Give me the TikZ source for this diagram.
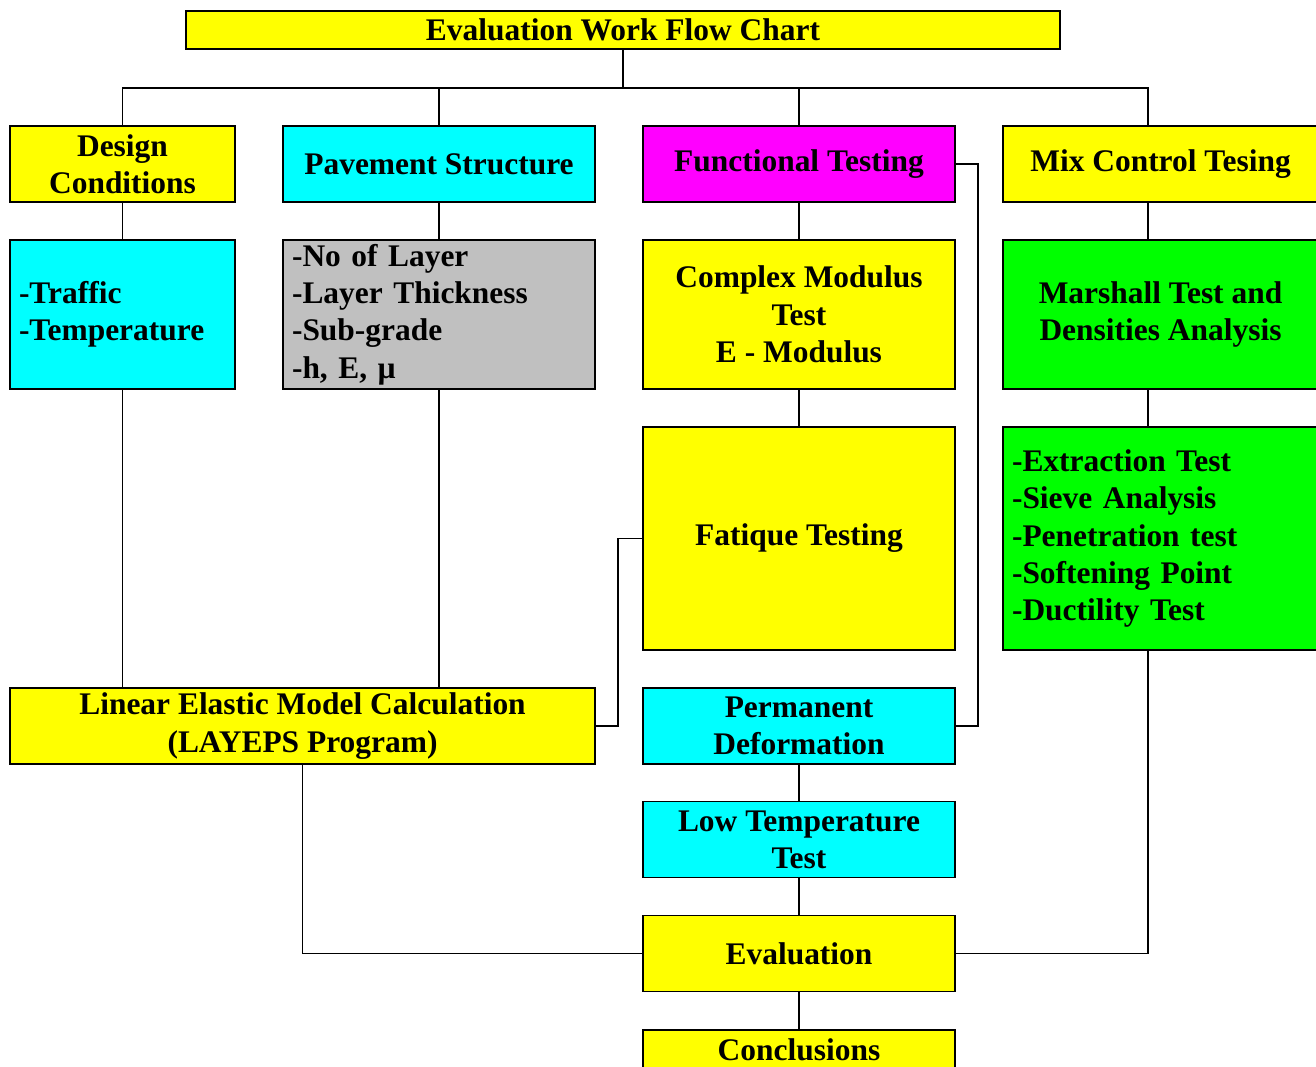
\documentclass[tikz,border=0pt]{standalone}
\usepackage{fontspec}
\setmainfont{Liberation Serif}
\usepackage{xcolor}
\usepackage{tikz}

\definecolor{wfyellow}{RGB}{255,255,0}
\definecolor{wfcyan}{RGB}{0,255,255}
\definecolor{wfmagenta}{RGB}{255,0,255}
\definecolor{wfgreen}{RGB}{0,255,0}
\definecolor{wfgray}{RGB}{192,192,192}
\newcommand{\wffont}{\fontsize{17.9}{21.2}\selectfont\bfseries}

\begin{document}
\begin{tikzpicture}[x=0.02cm,y=-0.02cm,line width=1.1pt]

        \tikzstyle{wfbox}=[draw,inner sep=0pt,align=center,font=\wffont,minimum height=1.52cm]
        \tikzstyle{wflist}=[wfbox,align=left,inner xsep=0.18cm]

        \clip (0,0) rectangle (1316,1066);

        %% Title and first row
        \node [wfbox,fill=wfyellow,minimum width=17.48cm,minimum height=0.76cm] (title) at (623,30) {Evaluation Work Flow Chart};

        \node [wfbox,fill=wfyellow,minimum width=4.5cm] (design) at (122.5,164) {Design\\Conditions};
        \node [wfbox,fill=wfcyan,minimum width=6.24cm] (pave) at (439,164) {Pavement Structure};
        \node [wfbox,fill=wfmagenta,minimum width=6.24cm] (func) at (799,164) {Functional Testing};
        \node [wfbox,fill=wfyellow,minimum width=6.3cm] (mix) at (1160.5,164) {Mix Control Tesing};

        %% Second row
        \node [wflist,fill=wfcyan,text width=4.14cm,minimum height=2.98cm] (traffic) at (122.5,314.5) {-Traffic\\-Temperature};
        \node [wflist,fill=wfgray,text width=5.88cm,minimum height=2.98cm] (layer) at (439,314.5) {-No of Layer\\-Layer Thickness\\-Sub-grade\\-h, E, \textmu};
        \node [wfbox,fill=wfyellow,minimum width=6.24cm,minimum height=2.98cm] (cmod) at (799,314.5) {Complex Modulus\\Test\\E - Modulus};
        \node [wfbox,fill=wfgreen,minimum width=6.3cm,minimum height=2.98cm] (marsh) at (1160.5,314.5) {Marshall Test and\\Densities Analysis};

        %% Third row
        \node [wfbox,fill=wfyellow,minimum width=6.24cm,minimum height=4.46cm] (fatig) at (799,538.5) {Fatique Testing};
        \node [wflist,fill=wfgreen,text width=5.94cm,minimum height=4.46cm] (extr) at (1160.5,538.5) {-Extraction Test\\-Sieve Analysis\\-Penetration test\\-Softening Point\\-Ductility Test};

        %% Lower part
        \node [wfbox,fill=wfyellow,minimum width=11.7cm] (lin) at (302.5,726) {Linear Elastic Model Calculation\\(LAYEPS Program)};
        \node [wfbox,fill=wfcyan,minimum width=6.24cm] (perm) at (799,726) {Permanent\\Deformation};
        \node [wfbox,fill=wfcyan,minimum width=6.24cm] (lowt) at (799,839.5) {Low Temperature\\Test};
        \node [wfbox,fill=wfyellow,minimum width=6.24cm] (eval) at (799,953.5) {Evaluation};
        \node [wfbox,fill=wfyellow,minimum width=6.24cm,minimum height=0.8cm] (concl) at (799,1050) {Conclusions};

        %% Connectors
        \coordinate (hub) at (623,88);
        \coordinate (mixcol) at (1148,0);

        \draw (title.south) -- (hub);
        \draw (design.north) |- (hub) -| (mixcol |- mix.north);
        \draw (pave.north) -- (pave.north |- hub);
        \draw (func.north) -- (func.north |- hub);

        \draw (design) -- (traffic);
        \draw (traffic.south) -- (traffic.south |- lin.north);
        \draw (pave) -- (layer);
        \draw (layer.south) -- (layer.south |- lin.north);

        \draw (func) -- (cmod);
        \draw (cmod) -- (fatig);
        \draw (func.east) -- ++(22,0) |- (perm.east);
        \draw (fatig.west) -- ++(-24,0) |- (lin.east);

        \draw (perm) -- (lowt);
        \draw (lowt) -- (eval);
        \draw (eval) -- (concl);
        \draw (lin.south) |- (eval.west);

        \draw (mixcol |- mix.south) -- (mixcol |- marsh.north);
        \draw (mixcol |- marsh.south) -- (mixcol |- extr.north);
        \draw (mixcol |- extr.south) |- (eval.east);

\end{tikzpicture}
\end{document}
